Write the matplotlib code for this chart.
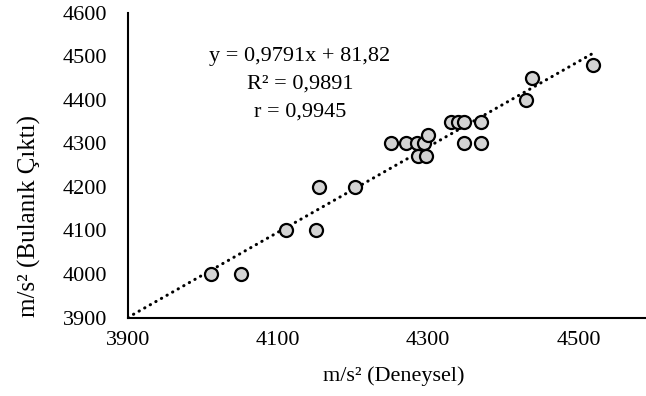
import numpy as np
import matplotlib
matplotlib.use('Agg')
import matplotlib.pyplot as plt

# olculen (deneysel) ve bulanik cikti degerleri
deneysel = [4010, 4050, 4110, 4150, 4155, 4203,
            4250, 4270, 4285, 4295, 4300, 4287, 4297,
            4330, 4340, 4347, 4370, 4348, 4370,
            4430, 4438, 4520]
bulanik = [4000, 4000, 4100, 4100, 4200, 4200,
           4300, 4300, 4300, 4300, 4320, 4270, 4270,
           4350, 4350, 4350, 4350, 4300, 4300,
           4400, 4450, 4480]

slope = 0.9791
intercept = 81.82
r2_text = 'R² = 0,9891'
r_text = 'r = 0,9945'
eq_text = 'y = 0,9791x + 81,82'

x_ticks = [3900, 4100, 4300, 4500]
y_ticks = [3900, 4000, 4100, 4200, 4300, 4400, 4500, 4600]

plt.rcParams['font.family'] = ['Liberation Serif', 'DejaVu Serif']
fs = 16

fig = plt.figure(figsize=(6.46, 3.96), dpi=100)
ax = fig.add_axes([0.198, 0.198, 0.802, 0.77])

# trend cizgisi
xt = np.array([3900, max(deneysel)])
ax.plot(xt, slope * xt + intercept, color='black', lw=2.2,
        linestyle=(0, (0.1, 2.0)), dash_capstyle='round', zorder=2)

ax.scatter(deneysel, bulanik, s=88, facecolor='#d4d4d4', edgecolor='black',
           linewidth=1.6, zorder=3)

ax.set_xlim(3900, 4590)
ax.set_ylim(3900, 4600)
ax.set_xticks(x_ticks)
ax.set_yticks(y_ticks)
ax.tick_params(length=0, labelsize=fs)
ax.tick_params(axis='x', pad=10)
ax.tick_params(axis='y', pad=15)

for s in ['top', 'right']:
    ax.spines[s].set_visible(False)
for s in ['left', 'bottom']:
    ax.spines[s].set_linewidth(1.5)

ax.text(0.332, 0.765, eq_text + '\n' + r2_text + '\n' + r_text,
        transform=ax.transAxes, ha='center', va='center', fontsize=fs,
        linespacing=1.6)

fig.text(0.61, 0.05, 'm/s² (Deneysel)', ha='center', va='center', fontsize=fs)
fig.text(0.045, 0.455, 'm/s² (Bulanık Çıktı)', ha='center', va='center',
         rotation=90, fontsize=18)

fig.savefig('out.png', dpi=100)
